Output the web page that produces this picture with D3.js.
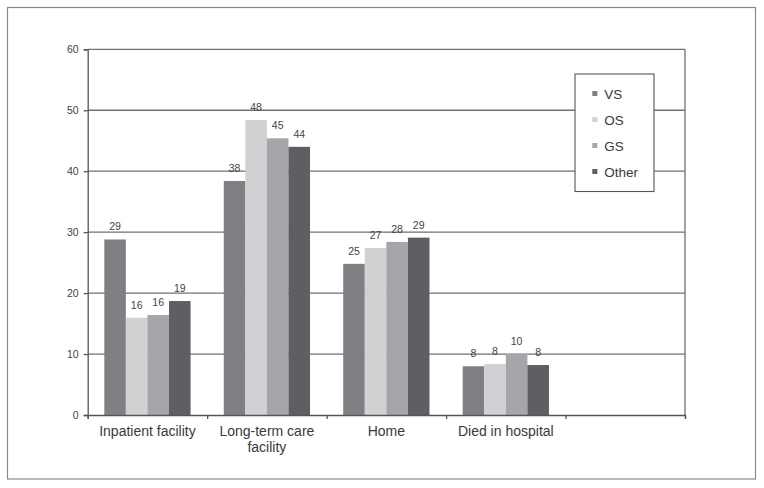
<!DOCTYPE html>
<html>
<head>
<meta charset="utf-8">
<script src="https://cdn.jsdelivr.net/npm/d3@7"></script>
<style>
  html, body { margin: 0; padding: 0; background: #fff; }
  svg { display: block; }
  text { font-family: "Liberation Sans", Arial, sans-serif; }
</style>
</head>
<body>
<svg id="chart" width="764" height="488"></svg>
<script>
// ---- data ----
const categories = ["Inpatient facility", "Long-term care facility", "Home", "Died in hospital", ""];
const categoryLines = [["Inpatient facility"], ["Long-term care", "facility"], ["Home"], ["Died in hospital"], [""]];
const seriesNames = ["VS", "OS", "GS", "Other"];
const vsValues    = [28.8, 38.4, 24.8, 8.0];
const osValues    = [15.95, 48.4, 27.4, 8.35];
const gsValues    = [16.4, 45.4, 28.4, 10.0];
const otherValues = [18.7, 44.0, 29.1, 8.2];
const seriesColors = ["#808084", "#d0d1d3", "#a5a6a9", "#5e5f62"];
const yTicks = [0, 10, 20, 30, 40, 50, 60];

const seriesValues = [vsValues, osValues, gsValues, otherValues];

// ---- layout ----
const svg = d3.select("#chart");
const plotLeft = 87.7, plotRight = 685, plotTop = 49.3, plotBottom = 415;

// outer frame
svg.append("rect")
  .attr("x", 7.5).attr("y", 7.5).attr("width", 748).attr("height", 471.5)
  .attr("fill", "none").attr("stroke", "#8a8a8a").attr("stroke-width", 1.2);

const x0 = d3.scaleBand().domain(d3.range(categories.length)).range([plotLeft, plotRight]).padding(0);
const pad = 16.6;
const x1 = d3.scaleBand().domain(seriesNames).range([pad, x0.bandwidth() - pad]).padding(0);
const y = d3.scaleLinear().domain([0, 60]).range([plotBottom, plotTop]);

// gridlines
svg.append("g").selectAll("line").data(yTicks.filter(d => d > 0)).join("line")
  .attr("x1", plotLeft).attr("x2", plotRight)
  .attr("y1", d => y(d)).attr("y2", d => y(d))
  .attr("stroke", "#707070").attr("stroke-width", 1.3);

// right border of plot
svg.append("line").attr("x1", plotRight).attr("x2", plotRight).attr("y1", plotTop).attr("y2", plotBottom)
  .attr("stroke", "#707070").attr("stroke-width", 1.3);

// bars
const groups = svg.append("g").selectAll("g")
  .data(seriesNames.map((name, i) => ({ name, i })))
  .join("g");

groups.selectAll("rect")
  .data(d => seriesValues[d.i].map((v, c) => ({ v, c, i: d.i, name: d.name })))
  .join("rect")
  .attr("fill", d => seriesColors[d.i])
  .attr("x", d => x0(d.c) + x1(d.name))
  .attr("width", x1.bandwidth())
  .attr("y", d => y(d.v))
  .attr("height", d => y(0) - y(d.v));

// data labels
groups.selectAll("text")
  .data(d => seriesValues[d.i].map((v, c) => ({ v, c, name: d.name })))
  .join("text")
  .attr("x", d => x0(d.c) + x1(d.name) + x1.bandwidth() / 2)
  .attr("y", d => y(d.v) - 9)
  .attr("text-anchor", "middle")
  .attr("font-size", 10.5)
  .attr("fill", "#444")
  .text(d => Math.round(d.v));

// y axis
const yAxis = svg.append("g").attr("transform", `translate(${plotLeft},0)`)
  .call(d3.axisLeft(y).tickValues(yTicks).tickSize(4).tickPadding(5).tickFormat(d3.format("d")));
yAxis.select(".domain").attr("stroke", "#555").attr("stroke-width", 1.3);
yAxis.selectAll(".tick line").attr("stroke", "#555").attr("stroke-width", 1.3);
yAxis.selectAll(".tick text").attr("font-size", 10.5).attr("fill", "#444")
  .attr("font-family", "Liberation Sans, Arial, sans-serif");

// x axis
const xTickScale = d3.scaleLinear().domain([0, categories.length]).range([plotLeft, plotRight]);
const xAxis = svg.append("g").attr("transform", `translate(0,${plotBottom})`)
  .call(d3.axisBottom(xTickScale).tickValues(d3.range(categories.length + 1)).tickSize(4).tickFormat(""));
xAxis.select(".domain").attr("stroke", "#555").attr("stroke-width", 1.3);
xAxis.selectAll(".tick line").attr("stroke", "#555").attr("stroke-width", 1.3);

// category labels
const catLabels = svg.append("g").selectAll("text")
  .data(categoryLines.map((lines, c) => ({ lines, c })))
  .join("text")
  .attr("text-anchor", "middle")
  .attr("font-size", 14)
  .attr("fill", "#3a3a3a");
catLabels.selectAll("tspan").data(d => d.lines.map(l => ({ l, c: d.c })))
  .join("tspan")
  .attr("x", d => x0(d.c) + x0.bandwidth() / 2)
  .attr("y", (d, i) => 436 + i * 15.5)
  .text(d => d.l);

// legend
const legend = svg.append("g");
legend.append("rect")
  .attr("x", 575).attr("y", 74).attr("width", 79).attr("height", 117.5)
  .attr("fill", "#fff").attr("stroke", "#555").attr("stroke-width", 1.1);
const items = legend.selectAll("g.item").data(seriesNames).join("g")
  .attr("transform", (d, i) => `translate(592.3,${93.5 + i * 26})`);
items.append("rect").attr("x", 0).attr("y", -2.5).attr("width", 5).attr("height", 5)
  .attr("fill", (d, i) => seriesColors[i]);
items.append("text").attr("x", 12).attr("y", 5.2).attr("font-size", 13.5).attr("fill", "#3a3a3a")
  .text(d => d);
</script>
</body>
</html>
